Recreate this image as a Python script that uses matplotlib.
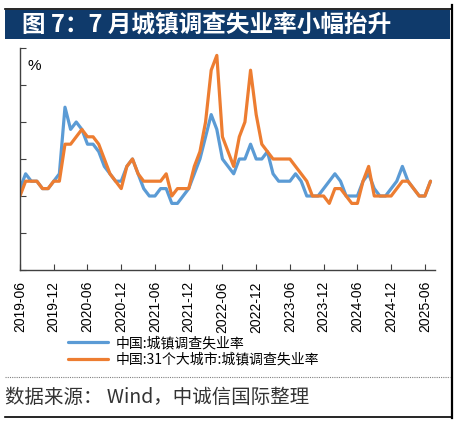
import numpy as np
import pandas as pd
import matplotlib
matplotlib.use("Agg")
from matplotlib import pyplot as plt
from matplotlib.patches import Rectangle
from matplotlib.lines import Line2D

plt.rcParams['font.family'] = ['Noto Sans CJK SC', 'DejaVu Sans']

# monthly data, 2019-06 .. 2025-07
months = pd.date_range('2019-06-01', '2025-07-01', freq='MS')

national = [5.1, 5.3, 5.2, 5.2, 5.1, 5.1, 5.2,
            5.3, 6.2, 5.9, 6.0, 5.9, 5.7, 5.7, 5.6, 5.4, 5.3, 5.2, 5.2,
            5.4, 5.5, 5.3, 5.1, 5.0, 5.0, 5.1, 5.1, 4.9, 4.9, 5.0, 5.1,
            5.3, 5.5, 5.8, 6.1, 5.9, 5.5, 5.4, 5.3, 5.5, 5.5, 5.7, 5.5,
            5.5, 5.6, 5.3, 5.2, 5.2, 5.2, 5.3, 5.2, 5.0, 5.0, 5.0, 5.1,
            5.2, 5.3, 5.2, 5.0, 5.0, 5.0, 5.2, 5.3, 5.1, 5.0, 5.0, 5.1,
            5.2, 5.4, 5.2, 5.1, 5.0, 5.0, 5.2]

city31 = [5.0, 5.2, 5.2, 5.2, 5.1, 5.1, 5.2,
          5.2, 5.7, 5.7, 5.8, 5.9, 5.8, 5.8, 5.7, 5.5, 5.3, 5.2, 5.1,
          5.4, 5.5, 5.3, 5.2, 5.2, 5.2, 5.2, 5.3, 5.0, 5.1, 5.1, 5.1,
          5.4, 5.6, 6.0, 6.7, 6.9, 5.8, 5.6, 5.4, 5.8, 6.0, 6.7, 6.1,
          5.7, 5.6, 5.5, 5.5, 5.5, 5.5, 5.4, 5.3, 5.2, 5.0, 5.0, 5.0,
          4.9, 5.1, 5.1, 5.0, 4.9, 4.9, 5.2, 5.4, 5.0, 5.0, 5.0, 5.0,
          5.1, 5.2, 5.2, 5.1, 5.0, 5.0, 5.2]

labels = ['中国:城镇调查失业率', '中国:31个大城市:城镇调查失业率']
title = '图 7：7 月城镇调查失业率小幅抬升'
source = '数据来源： Wind，中诚信国际整理'

W, H = 458, 423
fig = plt.figure(figsize=(W / 100, H / 100), dpi=100)
ax = fig.add_axes([20 / W, 1 - 270 / H, 415 / W, 222 / H])

x = np.arange(len(months))
ax.plot(x, national, color='#5B9BD5', lw=2.3, solid_joinstyle='round', solid_capstyle='round', label=labels[0])
ax.plot(x, city31, color='#ED7D31', lw=2.3, solid_joinstyle='round', solid_capstyle='round', label=labels[1])

ax.set_xlim(0, 73.8)
ax.set_ylim(4.0, 7.0)
ax.set_yticks(np.arange(4.0, 7.01, 0.5))
ax.set_yticklabels([])
ticks = x[::6]
ax.set_xticks(ticks)
ax.set_xticklabels([months[i].strftime('%Y-%m') for i in ticks], rotation=90,
                   family='Liberation Sans', fontsize=10)
ax.tick_params(axis='both', direction='in', length=4, width=0.8, color='#404040')
ax.tick_params(axis='x', pad=8)
for s in ['top', 'right']:
    ax.spines[s].set_visible(False)
for s in ['left', 'bottom']:
    ax.spines[s].set_color('#404040')
    ax.spines[s].set_linewidth(1.0)
ax.text(0.018, 0.95, '%', transform=ax.transAxes, fontsize=11, family='Liberation Sans',
        va='top', ha='left')

fig.legend(loc='upper left', bbox_to_anchor=(68 / W, 1 - 336 / H), frameon=False,
           fontsize=10, handlelength=2.9, handletextpad=0.5, labelspacing=0.2,
           borderpad=0, borderaxespad=0)

# frame and title bar
fig.patches.append(Rectangle((5 / W, 1 - 39 / H), 445 / W, 29 / H, transform=fig.transFigure,
                             facecolor='#0F3A6B', edgecolor='none'))
fig.lines.append(Line2D([5 / W, 452 / W], [1 - 9 / H, 1 - 9 / H], transform=fig.transFigure,
                        color='black', lw=1.2))
fig.lines.append(Line2D([451.5 / W, 451.5 / W], [1 - 5 / H, 1 - 418 / H], transform=fig.transFigure,
                        color='black', lw=1.6))
fig.lines.append(Line2D([5 / W, 450 / W], [1 - 377 / H, 1 - 377 / H], transform=fig.transFigure,
                        color='#808080', lw=0.8, ls=(0, (1, 1))))
fig.lines.append(Line2D([5 / W, 452 / W], [1 - 417 / H, 1 - 417 / H], transform=fig.transFigure,
                        color='black', lw=1.2))

fig.text(22 / W, 1 - 25 / H, title, color='white', fontsize=17, fontweight='bold',
         va='center', ha='left')
fig.text(5 / W, 1 - 397 / H, source, color='#333333', fontsize=14, va='center', ha='left')

fig.savefig('out.png', dpi=100)
